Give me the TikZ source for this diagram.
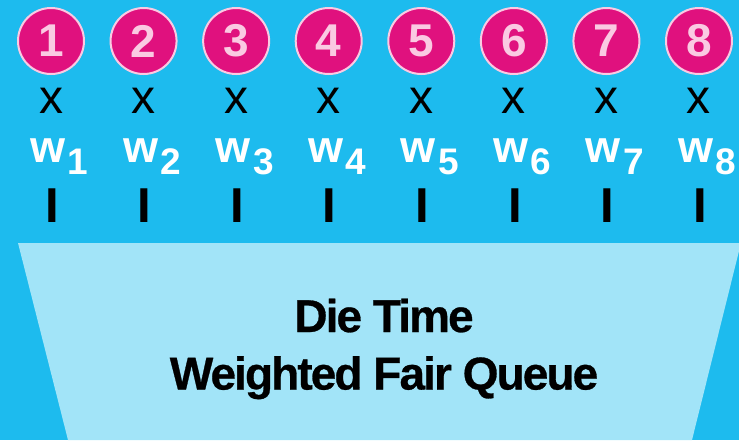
\documentclass[tikz,border=0pt]{standalone}
\usepackage{fontspec}
\setmainfont{Liberation Sans}
\newfontfamily\condfont{Liberation Sans}[LetterSpace=-4.2, FakeBold=0.6]
\usetikzlibrary{positioning}
\definecolor{skyB}{RGB}{29,187,238}
\definecolor{paleB}{RGB}{162,228,248}
\definecolor{rubyM}{RGB}{224,17,126}
\definecolor{blushP}{RGB}{250,202,226}

\begin{document}
\begin{tikzpicture}[x=1pt, y=-1pt,
  flow/.style={circle, draw=blushP, line width=2pt, fill=rubyM, text=blushP,
               minimum size=66pt, inner sep=0pt,
               font=\fontsize{46}{46}\selectfont\bfseries},
  times/.style={inner sep=0pt, font=\fontsize{48}{48}\selectfont},
  weight/.style={inner sep=0pt, text=white, font=\fontsize{45}{45}\selectfont\bfseries},
  wsub/.style={inner sep=0pt, text=white, font=\fontsize{37}{37}\selectfont\bfseries},
  bar/.style={inner sep=0pt, font=\fontsize{49}{49}\selectfont\bfseries},
  title/.style={inner sep=0pt, font=\condfont\fontsize{46}{46}\selectfont\bfseries}]

  \useasboundingbox (0,0) rectangle (739,440);
  \fill[skyB] (0,0) rectangle (739,440);

  % the queue
  \fill[paleB] (18,243) -- (741,243) -- (692,440) -- (68,440) -- cycle;
  \node[title, anchor=base] (die) at (384,332) {Die Time};
  \node[title, anchor=base] (wfq) at (384,389.5) {Weighted Fair Queue};

  % one column per flow
  \foreach \i in {1,...,8} {
    \pgfmathsetmacro{\cx}{51+92.57*(\i-1)}
    \node[flow] (c\i) at (\cx,41) {\raisebox{-2.5pt}{\i}};
    \node[times] (x\i) at (\cx,100.5) {x};
    \node[weight] (w\i) at (\cx-3,150.5) {w};
    \node[wsub, anchor=base west] (s\i) at ([xshift=2pt, yshift=-12pt]w\i.base east) {\i};
    \node[bar] (b\i) at (\cx+1,205.5) {I};
  }
\end{tikzpicture}
\end{document}
